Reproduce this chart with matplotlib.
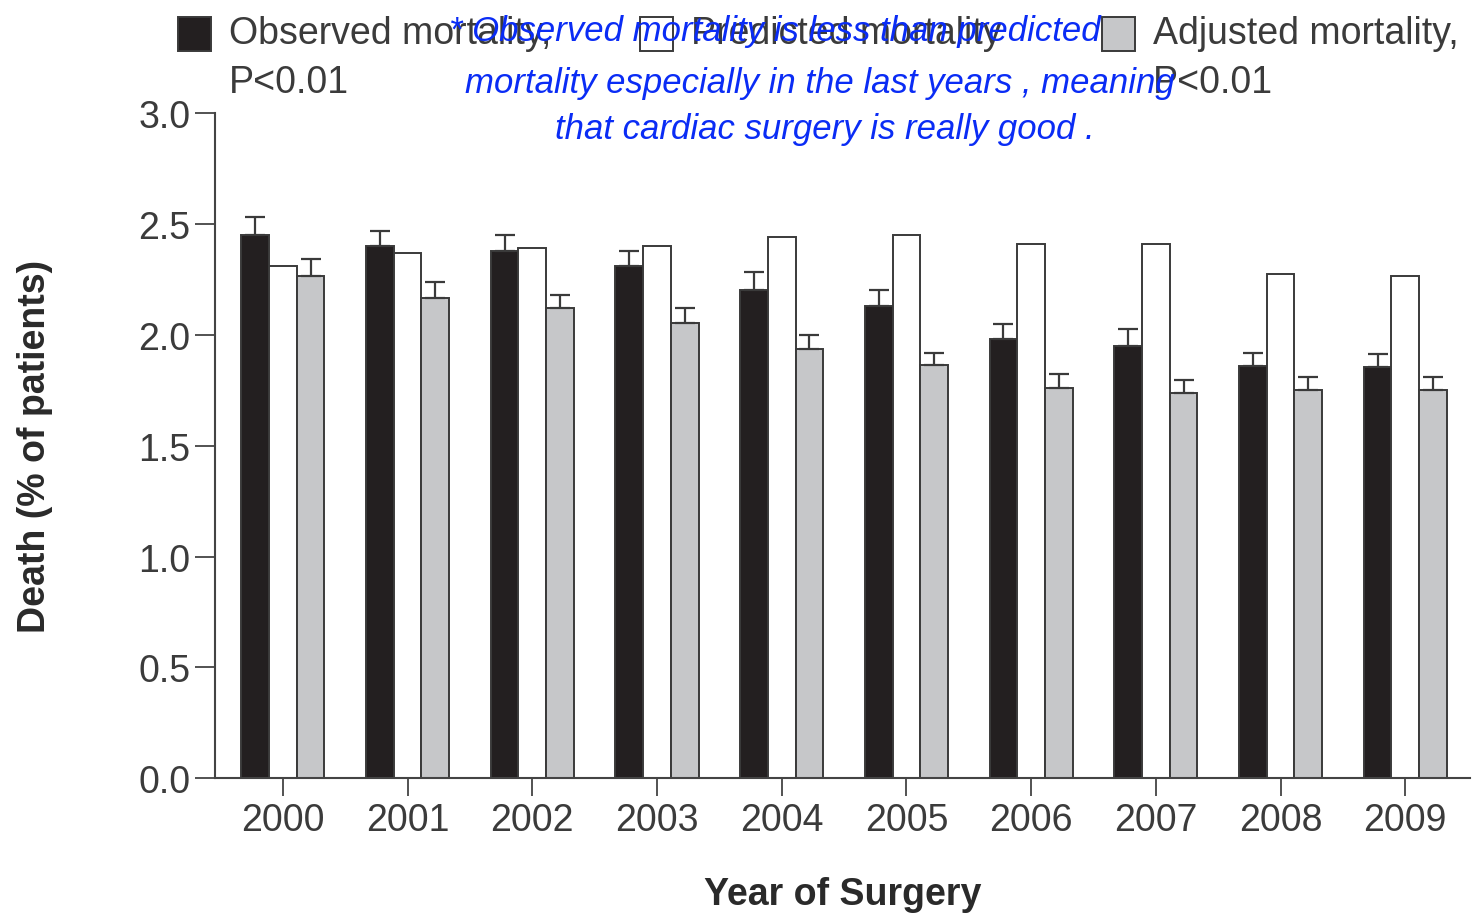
import matplotlib.pyplot as plt
from matplotlib.patches import Rectangle

# --- data ---
years = ["2000", "2001", "2002", "2003", "2004", "2005", "2006", "2007", "2008", "2009"]
observed = [2.45, 2.40, 2.38, 2.31, 2.20, 2.13, 1.98, 1.95, 1.86, 1.855]
observed_err = [0.08, 0.07, 0.07, 0.07, 0.085, 0.07, 0.07, 0.075, 0.06, 0.06]
predicted = [2.31, 2.37, 2.39, 2.40, 2.44, 2.45, 2.41, 2.41, 2.275, 2.265]
adjusted = [2.265, 2.165, 2.12, 2.055, 1.935, 1.863, 1.762, 1.737, 1.753, 1.753]
adjusted_err = [0.075, 0.075, 0.06, 0.065, 0.065, 0.055, 0.06, 0.06, 0.055, 0.055]

legend_labels = ["Observed mortality,\nP<0.01", "Predicted mortality", "Adjusted mortality,\nP<0.01"]
note_lines = ["* Observed mortality is less than predicted",
              "mortality especially in the last years , meaning",
              "that cardiac surgery is really good ."]

black = "#231f20"
gray = "#c6c7c9"
edge = "#3a3a3a"
text_col = "#3b3b3b"
ink = "#0a2cf5"

plt.rcParams["font.family"] = ["Liberation Sans", "DejaVu Sans"]

fig = plt.figure(figsize=(14.82, 9.2), dpi=100)
ax = fig.add_axes([0.145, 0.153, 0.847, 0.723])

x = list(range(len(years)))
w = 0.222
err_kw = dict(ecolor=edge, elinewidth=1.6, capsize=7.2, capthick=1.6)

ax.bar([i - w for i in x], observed, w, color=black, edgecolor=edge, linewidth=1.4,
       yerr=[[0] * len(x), observed_err], error_kw=err_kw)
ax.bar(x, predicted, w, color="white", edgecolor=edge, linewidth=1.4)
ax.bar([i + w for i in x], adjusted, w, color=gray, edgecolor=edge, linewidth=1.4,
       yerr=[[0] * len(x), adjusted_err], error_kw=err_kw)

ax.set_xlim(-0.545, 9.52)
ax.set_ylim(0, 3.0)
ax.set_yticks([0, 0.5, 1.0, 1.5, 2.0, 2.5, 3.0])
ax.set_yticklabels(["0.0", "0.5", "1.0", "1.5", "2.0", "2.5", "3.0"])
ax.set_xticks(x)
ax.set_xticklabels(years)

for s in ["top", "right"]:
    ax.spines[s].set_visible(False)
for s in ["left", "bottom"]:
    ax.spines[s].set_color("#444444")
    ax.spines[s].set_linewidth(1.5)

ax.tick_params(axis="y", direction="out", length=14.5, width=1.3, color="#444444",
               labelsize=27, labelcolor=text_col, pad=3)
ax.tick_params(axis="x", direction="out", length=13, width=1.3, color="#444444",
               labelsize=27, labelcolor=text_col, pad=4)

ax.set_ylabel("Death (% of patients)", fontsize=27, fontweight="bold", color="#2a2a2a",
              va="center")
ax.yaxis.set_label_coords(-0.143, 0.5)
ax.set_xlabel("Year of Surgery", fontsize=27, fontweight="bold", color="#2a2a2a", va="center")
ax.xaxis.set_label_coords(0.5, -0.174)

# --- legend across the top ---
fills = [black, "white", gray]
sq_x = [178, 640, 1102]
for fc, px, lab in zip(fills, sq_x, legend_labels):
    fig.add_artist(Rectangle((px / 1482, 1 - 52 / 920), 33 / 1482, 34 / 920,
                             transform=fig.transFigure, facecolor=fc,
                             edgecolor=edge, linewidth=1.4))
    fig.text((px + 51) / 1482, 1 - 16 / 920, lab, fontsize=27, color=text_col,
             ha="left", va="top", linespacing=1.45)

# --- handwritten note ---
note_pos = [(775, 32), (820, 84), (825, 130)]
for (px, py), line in zip(note_pos, note_lines):
    fig.text(px / 1482, 1 - py / 920, line, fontsize=25, color=ink,
             style="italic", ha="center", va="center")

fig.savefig("out.png", dpi=100)
